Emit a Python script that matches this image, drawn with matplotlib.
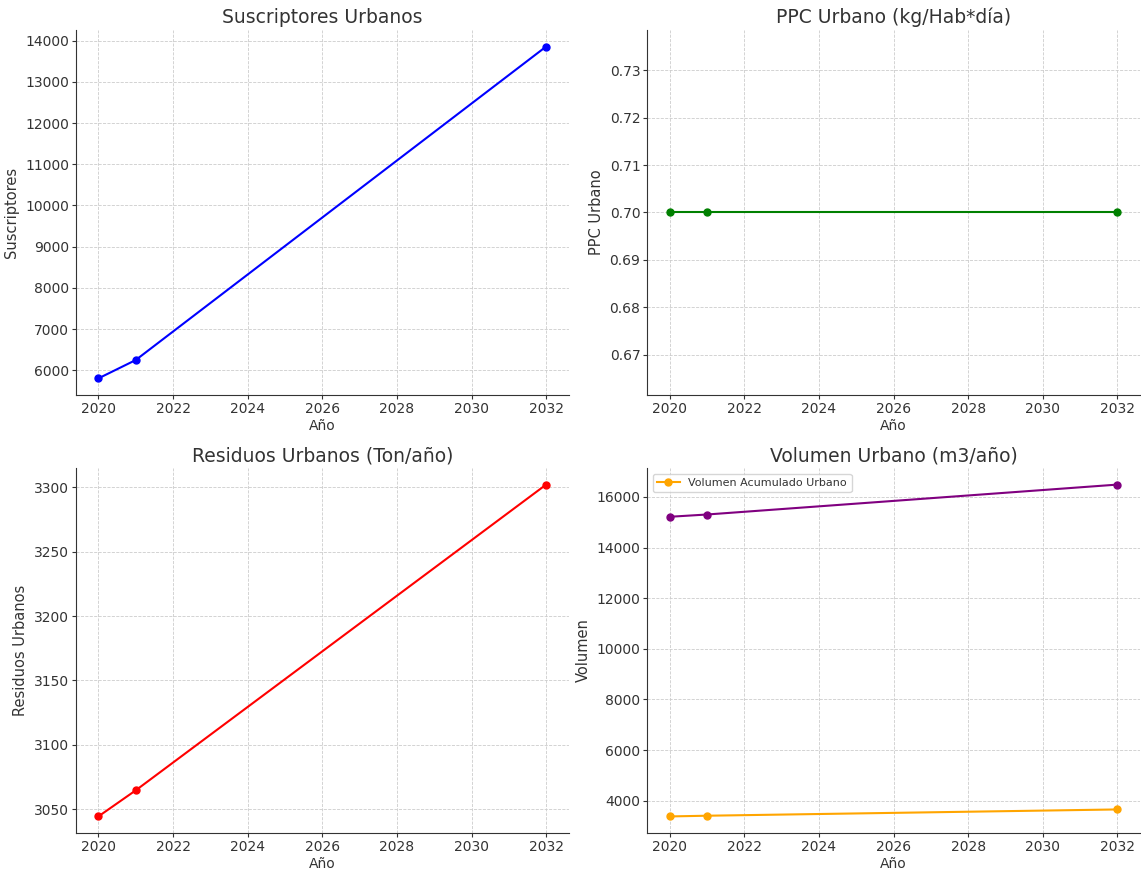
import matplotlib
matplotlib.use('Agg')
import matplotlib.pyplot as plt

# data
anios = [2020, 2021, 2032]
suscriptores = [5805, 6250, 13855]
ppc = [0.70, 0.70, 0.70]
residuos = [3044.6, 3064.8, 3301.9]
volumen = [15213, 15303, 16484]
volumen_acum = [3382, 3410, 3658]

plt.rcParams['font.family'] = 'DejaVu Sans'
plt.rcParams['text.color'] = '#333333'
plt.rcParams['axes.labelcolor'] = '#333333'
plt.rcParams['xtick.color'] = '#333333'
plt.rcParams['ytick.color'] = '#333333'

fig, axs = plt.subplots(2, 2, figsize=(11.41, 8.71), dpi=100)
fig.subplots_adjust(left=0.0666, right=0.999, top=0.9656, bottom=0.0436,
                    wspace=0.16, hspace=0.2)


def style(ax, title, ylabel):
    ax.set_title(title, fontsize=13.5, color='#333333', pad=5)
    ax.set_xlabel('Año', fontsize=10, labelpad=2)
    ax.set_ylabel(ylabel, fontsize=10.5, labelpad=4)
    ax.grid(True, linestyle='--', linewidth=0.6, color='#cccccc')
    ax.set_axisbelow(True)
    for s in ['top', 'right']:
        ax.spines[s].set_visible(False)
    for s in ['left', 'bottom']:
        ax.spines[s].set_color('#333333')
    ax.tick_params(labelsize=10, length=3, pad=2)
    ax.set_xticks(range(2020, 2033, 2))


ax = axs[0, 0]
ax.plot(anios, suscriptores, marker='o', color='blue', markersize=5)
style(ax, 'Suscriptores Urbanos', 'Suscriptores')

ax = axs[0, 1]
ax.plot(anios, ppc, marker='o', color='green', markersize=5)
style(ax, 'PPC Urbano (kg/Hab*día)', 'PPC Urbano')

ax = axs[1, 0]
ax.plot(anios, residuos, marker='o', color='red', markersize=5)
style(ax, 'Residuos Urbanos (Ton/año)', 'Residuos Urbanos')

ax = axs[1, 1]
ax.plot(anios, volumen, marker='o', color='purple', markersize=5)
ax.plot(anios, volumen_acum, marker='o', color='orange', markersize=5,
        label='Volumen Acumulado Urbano')
style(ax, 'Volumen Urbano (m3/año)', 'Volumen')
ax.legend(loc='upper left', fontsize=8)

fig.savefig('out.png', dpi=100)
